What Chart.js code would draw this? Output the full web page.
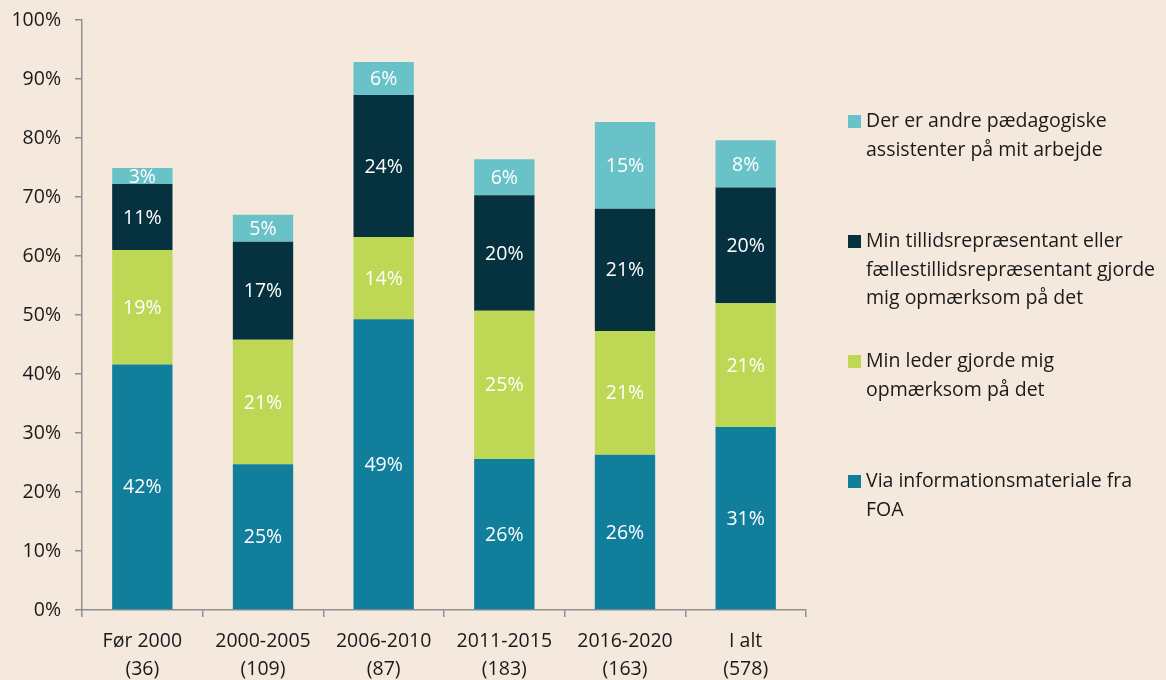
<!DOCTYPE html>
<html>
<head>
<meta charset="utf-8">
<script src="https://cdn.jsdelivr.net/npm/chart.js@4/dist/chart.umd.min.js"></script>
<style>
  html, body { margin: 0; padding: 0; background: #f5e8dc; }
  #wrap { position: relative; width: 1166px; height: 680px; background: #f5e8dc; }
  #c { position: absolute; left: 0; top: 0; }
  #legend { position: absolute; left: 848px; top: 106px; font-family: "Open Sans", sans-serif; font-size: 19.5px; line-height: 28.5px; color: #1a1a1a; }
  .item { position: relative; height: 120px; padding-left: 18px; }
  .item .sw { position: absolute; left: 0; top: 9px; width: 13px; height: 13px; }
  .item div.line { white-space: nowrap; }
</style>
</head>
<body>
<div id="wrap">
  <canvas id="c" width="1166" height="680"></canvas>
  <div id="legend"></div>
</div>
<script>
const categories = [["Før 2000","(36)"],["2000-2005","(109)"],["2006-2010","(87)"],["2011-2015","(183)"],["2016-2020","(163)"],["I alt","(578)"]];
const seriesLabels = [
  ["Via informationsmateriale fra", "FOA"],
  ["Min leder gjorde mig", "opmærksom på det"],
  ["Min tillidsrepræsentant eller", "fællestillidsrepræsentant gjorde", "mig opmærksom på det"],
  ["Der er andre pædagogiske", "assistenter på mit arbejde"]
];
const viaFOA   = [41.6, 24.7, 49.3, 25.6, 26.3, 31.0];
const leder    = [19.4, 21.1, 13.9, 25.1, 21.0, 21.0];
const tillid   = [11.2, 16.6, 24.1, 19.6, 20.7, 19.6];
const andre    = [ 2.7,  4.6,  5.6,  6.1, 14.7,  8.0];
const yTicks = ["0%","10%","20%","30%","40%","50%","60%","70%","80%","90%","100%"];
const colors = ["#117e9b", "#bed754", "#06323f", "#69c2c7"];

const seriesValues = [viaFOA, leder, tillid, andre];
const datasets = seriesValues.map((vals, i) => ({
  label: seriesLabels[i].join(" "),
  data: vals,
  backgroundColor: colors[i],
  borderWidth: 0,
  categoryPercentage: 1.0,
  barPercentage: 0.5
}));

const labelPlugin = {
  id: "segLabels",
  afterDatasetsDraw(chart) {
    const ctx = chart.ctx;
    ctx.save();
    ctx.font = "19.5px 'Open Sans', sans-serif";
    ctx.fillStyle = "#ffffff";
    ctx.textAlign = "center";
    ctx.textBaseline = "middle";
    chart.data.datasets.forEach((ds, di) => {
      const meta = chart.getDatasetMeta(di);
      meta.data.forEach((bar, j) => {
        const p = bar.getProps(["x", "y", "base"], true);
        ctx.fillText(Math.round(ds.data[j]) + "%", p.x, (p.y + p.base) / 2 + 1);
      });
    });
    ctx.restore();
  }
};

const axisColor = "#8f8f8f";
new Chart(document.getElementById("c"), {
  type: "bar",
  data: { labels: categories, datasets },
  options: {
    responsive: false,
    animation: false,
    events: [],
    layout: { padding: { top: 20, right: 360, left: 0, bottom: 0 } },
    plugins: { legend: { display: false }, tooltip: { enabled: false } },
    scales: {
      x: {
        stacked: true,
        afterFit(s) { s.height = 70; },
        grid: { drawOnChartArea: false, color: axisColor, tickLength: 7, lineWidth: 1.5, offset: true },
        border: { color: axisColor, width: 1.5 },
        ticks: { color: "#1a1a1a", font: { family: "'Open Sans', sans-serif", size: 19.5, lineHeight: 1.45 }, padding: 10, maxRotation: 0, autoSkip: false }
      },
      y: {
        stacked: true,
        min: 0, max: 100,
        afterFit(s) { s.width = 82; s.paddingTop = 0; s.paddingBottom = 0; },
        grid: { drawOnChartArea: false, color: axisColor, tickLength: 7, lineWidth: 1.5 },
        border: { color: axisColor, width: 1.5 },
        ticks: { stepSize: 10, color: "#1a1a1a", padding: 14,
          font: { family: "'Open Sans', sans-serif", size: 19.5 },
          callback: (v, i) => yTicks[i] }
      }
    }
  },
  plugins: [labelPlugin]
});

const legend = document.getElementById("legend");
[3, 2, 1, 0].forEach(i => {
  const item = document.createElement("div");
  item.className = "item";
  const sw = document.createElement("span");
  sw.className = "sw";
  sw.style.background = colors[i];
  item.appendChild(sw);
  seriesLabels[i].forEach(t => {
    const l = document.createElement("div");
    l.className = "line";
    l.textContent = t;
    item.appendChild(l);
  });
  legend.appendChild(item);
});
</script>
</body>
</html>
